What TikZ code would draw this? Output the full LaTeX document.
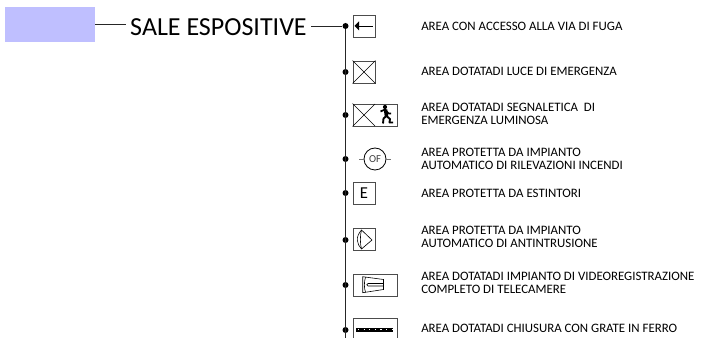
\documentclass[tikz,border=0pt]{standalone}
\usepackage{fontspec}
\setmainfont{Carlito}
\usepackage{tikz}
\usetikzlibrary{positioning}

\tikzset{
    busdot/.style={circle, fill=black, inner sep=0pt, minimum size=4.5pt},
    iconbox/.style={draw=black!70, line width=0.6pt, inner sep=0pt, minimum width=16.5pt, minimum height=16.5pt},
    widebox/.style={iconbox, minimum width=33pt},
    itemtext/.style={anchor=west, align=left, inner sep=0pt, font=\fontsize{9.65}{9.8}\selectfont},
    busline/.style={line width=0.6pt, black!85},
}

\begin{document}
\begin{tikzpicture}[x=0.75pt, y=-0.75pt]
    \useasboundingbox (0, 0) rectangle (701, 338);

    % Header block and title
    \node[fill=blue!25, inner sep=0pt, minimum width=67.5pt, minimum height=26.5pt] (head) at (50, 24.5) {};
    \node[font=\fontsize{19.5}{22}\selectfont, inner sep=0pt] (title) at (218.5, 27) {SALE ESPOSITIVE};
    \coordinate (titleL) at (126, 24.5);
    \coordinate (busEnd) at (345.5, 338);

    % Dots on the bus
    \node[busdot] (d1) at (345.5, 26) {};
    \node[busdot] (d2) at (345.5, 72) {};
    \node[busdot] (d3) at (345.5, 115) {};
    \node[busdot] (d4) at (345.5, 159) {};
    \node[busdot] (d5) at (345.5, 193) {};
    \node[busdot] (d6) at (345.5, 240) {};
    \node[busdot] (d7) at (345.5, 285) {};
    \node[busdot] (d8) at (345.5, 330) {};

    \draw[busline] (head.east |- titleL) -- (titleL);
    \draw[busline] ([xshift=3pt]title.east |- d1) -- (d1);
    \draw[busline, line width=0.8pt] (d1) -- (busEnd);

    % Icon boxes
    \node[iconbox] (exit) at (364, 26) {};
    \node[iconbox] (lamp) at (364, 72) {};
    \node[widebox] (sign) at (375, 115) {};
    \node[circle, draw=black, line width=0.6pt, inner sep=0pt, minimum size=16.5pt, font=\fontsize{8}{9}\selectfont, text=black!75] (smoke) at (375, 159) {OF};
    \node[iconbox, font=\fontsize{12.5}{14}\selectfont] (ext) at (364, 193.5) {E};
    \node[iconbox] (radar) at (364, 239) {};
    \node[widebox] (cam) at (375, 285) {};
    \node[widebox] (grate) at (375, 329) {};

    % Arrow in the first box
    \draw[line width=0.6pt] (372.5, 26) -- (358, 26);
    \fill (354.5, 26) -- (359, 21.5) -- (359, 30.5) -- cycle;

    % Crosses
    \draw[line width=0.4pt] (lamp.north west) -- (lamp.south east);
    \draw[line width=0.4pt] (lamp.north east) -- (lamp.south west);
    \draw[line width=0.4pt] (sign.north west) -- (375, 126);
    \draw[line width=0.4pt] (375, 104) -- (sign.south west);

    % Running figure
    \fill (385, 107) circle (2.1);
    \draw[line width=1.3pt, line join=round] (380.5, 111.5) -- (385, 109.5) -- (388.5, 113.5) -- (391, 113.5);
    \draw[line width=2.6pt] (385.5, 109.5) -- (386.5, 116.5);
    \draw[line width=1.4pt, line join=round] (386.5, 116) -- (383.5, 118.5) -- (383, 123.5);
    \draw[line width=1.4pt, line join=round] (386.5, 116) -- (390, 119) -- (389.5, 122.5) -- (393, 122.5);

    % Ticks beside the circle
    \draw[black!55, line width=0.7pt] (359, 159) -- (smoke.west);
    \draw[black!55, line width=0.7pt] (smoke.east) -- (391, 159);

    % Detector in the sixth box
    \draw[line width=0.45pt, line join=round] (361.5, 230) .. controls (358.5, 233.5) and (357, 237) .. (357.3, 240) .. controls (357.5, 243.5) and (359, 246.5) .. (361.5, 249) -- (372, 240) -- cycle;
    \draw[line width=0.45pt] (361.5, 230) .. controls (360, 235) and (360, 244) .. (361.5, 249);

    % Camera in the seventh box
    \draw[line width=0.45pt] (362.7, 276.7) -- (383.5, 279.5) -- (383.5, 289.5) -- (362.7, 292.7) -- cycle;
    \draw[line width=0.45pt] (365.5, 277.2) .. controls (364, 282) and (364, 288) .. (365.5, 292.2);
    \draw[line width=0.45pt] (383.5, 283.5) -- (368, 283.5) .. controls (366.5, 283.5) and (366.5, 286) .. (368, 286) -- (383.5, 286);

    % Grate in the last box
    \draw[line width=2.6pt] (356, 330) -- (392.7, 330);
    \draw[white, line width=0.7pt, dash pattern=on 0.9pt off 3.3pt] (358, 329.3) -- (392, 329.3);

    % Texts
    \node[itemtext] (t1) at (421, 26.5) {AREA CON ACCESSO ALLA VIA DI FUGA};
    \node[itemtext] (t2) at (421, 71) {AREA DOTATADI LUCE DI EMERGENZA};
    \node[itemtext] (t3) at (421, 114) {AREA DOTATADI SEGNALETICA\ \ DI\\EMERGENZA LUMINOSA};
    \node[itemtext] (t4) at (421, 158.5) {AREA PROTETTA DA IMPIANTO\\AUTOMATICO DI RILEVAZIONI INCENDI};
    \node[itemtext] (t5) at (421, 193) {AREA PROTETTA DA ESTINTORI};
    \node[itemtext] (t6) at (421, 236.5) {AREA PROTETTA DA IMPIANTO\\AUTOMATICO DI ANTINTRUSIONE};
    \node[itemtext] (t7) at (421, 282.5) {AREA DOTATADI IMPIANTO DI VIDEOREGISTRAZIONE\\COMPLETO DI TELECAMERE};
    \node[itemtext] (t8) at (421, 328) {AREA DOTATADI CHIUSURA CON GRATE IN FERRO};
\end{tikzpicture}
\end{document}
